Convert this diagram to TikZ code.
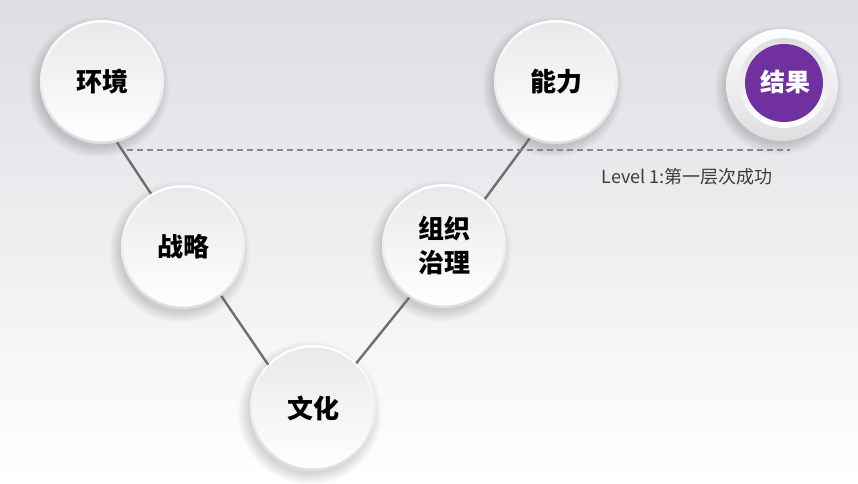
\documentclass[tikz,border=0pt]{standalone}
\usepackage{fontspec}
\newfontfamily\cjk{Noto Sans CJK SC}
\definecolor{bgtop}{RGB}{222,222,227}
\definecolor{bgmid}{RGB}{240,240,242}
\definecolor{rimlow}{RGB}{222,222,224}
\definecolor{facetop}{RGB}{233,233,235}
\definecolor{linegray}{RGB}{110,110,110}
\definecolor{dashgray}{RGB}{135,135,135}
\definecolor{purp}{RGB}{112,48,160}
\definecolor{txtgray}{RGB}{60,60,60}
\newcommand\platebg[3]{%
  \foreach \i in {0,...,12}{\fill[black,opacity=0.011] ({#1-3},{#2-5}) circle ({#3+\i*0.9-2});}
  \shade[top color=white,bottom color=rimlow] (#1,#2) circle (#3);
  \shade[top color=facetop,bottom color=white] (#1,#2) circle ({#3-2.5});
}
\tikzset{
  plate/.style={circle, minimum size=124pt, inner sep=0pt, align=center,
    font=\cjk\bfseries\fontsize{26}{34}\selectfont, text=black},
  connector/.style={draw=linegray, line width=2.4pt},
  levelline/.style={draw=dashgray, line width=1.4pt, dash pattern=on 6pt off 4pt},
}
\begin{document}
\begin{tikzpicture}[x=1pt,y=1pt]
\useasboundingbox (0,0) rectangle (858,483);
\shade[top color=bgtop, middle color=bgmid, bottom color=white] (0,0) rectangle (858,483);
% plates
\platebg{102}{401}{62}
\platebg{556}{401}{62}
\platebg{183}{236}{62}
\platebg{444}{237}{62}
\platebg{313}{75}{63}
% result plate
\foreach \i in {0,...,12}{\fill[black,opacity=0.011] (779,393) circle ({54+\i*0.9});}
\shade[top color=white,bottom color=rimlow] (782,398) circle (56);
\shade[top color=rimlow,bottom color=white] (784,400) circle (45);
\fill[purp] (784,400) circle (39);
% nodes
\node[plate] (env) at (102,401) {环境};
\node[plate] (cap) at (556,401) {能力};
\node[plate] (str) at (183,236) {战略};
\node[plate] (org) at (444,237) {组织\\治理};
\node[plate] (cul) at (313,75) {文化};
\node[circle, minimum size=78pt, inner sep=0pt, font=\cjk\bfseries\fontsize{25}{33}\selectfont, text=white] (res) at (785,401) {结果};
% connectors
\draw[connector] (env.-76) -- (str.121);
\draw[connector] (str.-52) -- (cul.136);
\draw[connector] (cul.46) -- (org.-124);
\draw[connector] (org.49) -- (cap.-115);
% level line
\coordinate (lvA) at (127,333);
\coordinate (lvB) at (790,333);
\draw[levelline] (lvA) -- (lvB);
\node[font=\cjk\fontsize{18}{21}\selectfont, text=txtgray, inner sep=0pt] (lvl) at (687,306) {Level 1:第一层次成功};
\end{tikzpicture}
\end{document}
